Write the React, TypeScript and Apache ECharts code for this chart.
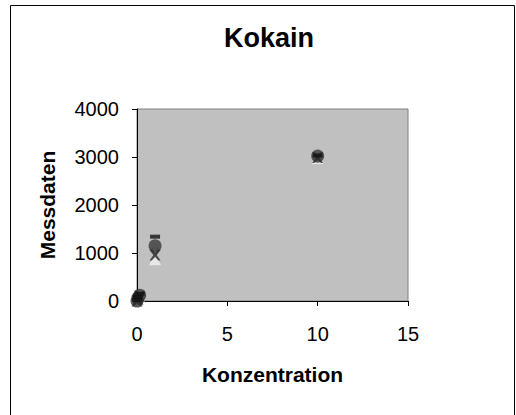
import React, { useEffect, useRef } from "react";
import * as echarts from "echarts";

const concentrations = [0, 0.05, 0.15, 1, 10];
const seriesCircle = [0, 60, 120, 1150, 3020];
const seriesCross = [0, 40, 100, 960, 2990];
const seriesDash = [20, 90, 150, 1340, 3030];
const seriesTriangle = [10, 30, 80, 870, 2980];
const seriesPlus = [5, 70, 130, 1140, 3010];
const seriesDiamond = [15, 55, 110, 1050, 3000];
const xTicks = { min: 0, max: 15, interval: 5 };
const yTicks = { min: 0, max: 4000, interval: 1000 };

const CROSS = "path://M0,0 L2,0 L5,3 L8,0 L10,0 L6.5,5 L10,10 L8,10 L5,7 L2,10 L0,10 L3.5,5 Z";
const PLUS = "path://M4,0 H6 V4 H10 V6 H6 V10 H4 V6 H0 V4 H4 Z";

function pts(vals: number[]) {
  return concentrations.map((c, i) => [c, vals[i]]);
}

export default function App() {
  const ref = useRef<HTMLDivElement>(null);
  useEffect(() => {
    document.body.style.margin = "0";
    if (!ref.current) return;
    const chart = echarts.init(ref.current, undefined, { renderer: "svg" });
    const font = "'Liberation Sans', Arial, sans-serif";
    const mk = (name: string, vals: number[], symbol: string, size: any, color: string, z: number) => ({
      name,
      type: "scatter",
      data: pts(vals),
      symbol,
      symbolSize: size,
      itemStyle: { color },
      clip: false,
      z,
    });
    chart.setOption({
      animation: false,
      backgroundColor: "#ffffff",
      textStyle: { fontFamily: font },
      title: {
        text: "Kokain",
        left: 264,
        textAlign: "center",
        top: 19,
        textStyle: { fontSize: 27, fontWeight: "bold", color: "#000", fontFamily: font },
      },
      graphic: [
        {
          type: "rect",
          shape: { x: 10.5, y: 5.5, width: 504, height: 430 },
          style: { fill: "none", stroke: "#000", lineWidth: 1 },
          silent: true,
        },
      ],
      grid: {
        left: 137,
        top: 109,
        width: 271,
        height: 192,
        show: true,
        backgroundColor: "#C0C0C0",
        borderColor: "#808080",
        borderWidth: 1,
      },
      xAxis: {
        type: "value",
        min: xTicks.min,
        max: xTicks.max,
        interval: xTicks.interval,
        name: "Konzentration",
        nameLocation: "middle",
        nameGap: 63,
        nameTextStyle: { fontSize: 21, fontWeight: "bold", color: "#000", fontFamily: font },
        axisLine: { show: true, onZero: false, lineStyle: { color: "#000", width: 1 } },
        axisTick: { show: true, length: 5, inside: false, lineStyle: { color: "#000" } },
        axisLabel: { fontSize: 20, color: "#000", margin: 23, fontFamily: font, formatter: (v: number) => String(v) },
        splitLine: { show: false },
      },
      yAxis: {
        type: "value",
        min: yTicks.min,
        max: yTicks.max,
        interval: yTicks.interval,
        name: "Messdaten",
        nameLocation: "middle",
        nameGap: 79,
        nameTextStyle: { fontSize: 21, fontWeight: "bold", color: "#000", fontFamily: font },
        axisLine: { show: true, onZero: false, lineStyle: { color: "#000", width: 1 } },
        axisTick: { show: true, length: 5, inside: false, lineStyle: { color: "#000" } },
        axisLabel: { fontSize: 20, color: "#000", margin: 18, fontFamily: font, formatter: (v: number) => String(v) },
        splitLine: { show: false },
      },
      series: [
        mk("Triangle", seriesTriangle, "triangle", 12, "#f0f0f0", 2),
        mk("Diamond", seriesDiamond, "diamond", 12, "#8a8a8a", 3),
        mk("Circle", seriesCircle, "circle", 13, "#3a3a3a", 4),
        mk("Plus", seriesPlus, PLUS, 11, "#555555", 5),
        mk("Cross", seriesCross, CROSS, 11, "#2a2a2a", 6),
        mk("Dash", seriesDash, "rect", [10, 4], "#111111", 7),
      ],
    });
    return () => chart.dispose();
  }, []);
  return <div ref={ref} style={{ width: 516, height: 415 }} />;
}
